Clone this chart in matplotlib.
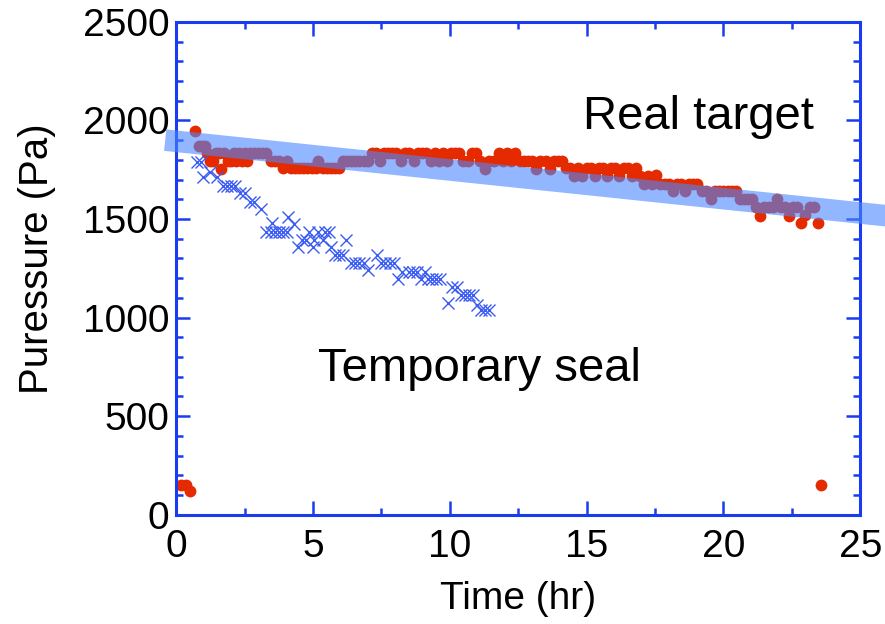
import numpy as np
import matplotlib
matplotlib.use('Agg')
import matplotlib.pyplot as plt
from matplotlib.ticker import MultipleLocator

plt.rcParams['font.family'] = ['Liberation Sans', 'DejaVu Sans']

# Real target (red dots)
real_t = [0.18, 0.37, 0.51, 0.68, 0.82, 0.95, 1.05, 1.12, 1.25, 1.35, 1.45, 1.55, 1.65, 1.75,
          1.9, 2.0, 2.1, 2.2, 2.3, 2.4, 2.5, 2.6, 2.7, 2.85, 3.0, 3.15, 3.3, 3.45, 3.6, 3.75,
          3.9, 4.05, 4.2, 4.35, 4.5, 4.65, 4.8, 4.95, 5.1, 5.2, 5.35, 5.5, 5.65, 5.8, 5.95,
          6.1, 6.25, 6.4, 6.55, 6.7, 6.85, 7.0, 7.15, 7.3, 7.45, 7.6, 7.75, 7.9, 8.05, 8.2,
          8.35, 8.5, 8.7, 8.85, 9.0, 9.15, 9.3, 9.45, 9.6, 9.75, 9.9, 10.05, 10.2, 10.35,
          10.5, 10.65, 10.8, 10.95, 11.1, 11.3, 11.45, 11.6, 11.8, 11.95, 12.1, 12.25, 12.4,
          12.55, 12.7, 12.85, 13.0, 13.15, 13.3, 13.5, 13.65, 13.8, 13.95, 14.1, 14.25, 14.4,
          14.55, 14.7, 14.85, 15.0, 15.15, 15.3, 15.45, 15.6, 15.75, 15.9, 16.05, 16.2, 16.35,
          16.5, 16.65, 16.8, 16.95, 17.1, 17.25, 17.4, 17.55, 17.7, 17.85, 18.0, 18.15, 18.3,
          18.45, 18.6, 18.75, 18.9, 19.05, 19.2, 19.35, 19.55, 19.7, 19.85, 20.0, 20.15, 20.3,
          20.45, 20.6, 20.75, 20.9, 21.05, 21.2, 21.35, 21.5, 21.65, 21.8, 21.95, 22.1, 22.25,
          22.4, 22.55, 22.7, 22.85, 23.0, 23.15, 23.3, 23.45, 23.55]
real_p = [150, 150, 120, 1945, 1870, 1870, 1870, 1835, 1795, 1795, 1835, 1835, 1755, 1835,
          1795, 1795, 1835, 1795, 1835, 1795, 1835, 1795, 1835, 1835, 1835, 1835, 1835, 1795, 1795, 1795,
          1760, 1795, 1760, 1760, 1760, 1760, 1760, 1760, 1760, 1795, 1760, 1760, 1760, 1760, 1760,
          1795, 1795, 1795, 1795, 1795, 1795, 1795, 1835, 1835, 1795, 1835, 1835, 1835, 1835, 1795,
          1835, 1835, 1795, 1835, 1835, 1835, 1795, 1835, 1795, 1835, 1795, 1835, 1835, 1835,
          1795, 1795, 1835, 1835, 1795, 1755, 1795, 1795, 1835, 1795, 1835, 1795, 1835,
          1795, 1795, 1795, 1795, 1755, 1795, 1795, 1755, 1795, 1795, 1795, 1760, 1760,
          1720, 1760, 1720, 1760, 1760, 1720, 1760, 1760, 1720, 1760, 1760, 1720, 1760,
          1760, 1720, 1760, 1720, 1680, 1720, 1680, 1725, 1680, 1680, 1680, 1640, 1680,
          1680, 1640, 1680, 1680, 1680, 1640, 1640, 1600, 1640, 1640, 1640, 1640, 1640,
          1640, 1600, 1600, 1600, 1600, 1560, 1515, 1560, 1560, 1560, 1600, 1560, 1560,
          1515, 1560, 1560, 1480, 1520, 1560, 1560, 1480, 150]

# Temporary seal (blue crosses)
temp_t = [0.75, 0.9, 1.0, 1.25, 1.5, 1.7, 1.85, 2.0, 2.15, 2.35, 2.5, 2.7, 2.85, 3.1, 3.3,
          3.45, 3.5, 3.6, 3.75, 3.9, 4.05, 4.1, 4.3, 4.45, 4.6, 4.75, 4.85, 5.0, 5.05, 5.2,
          5.35, 5.45, 5.6, 5.65, 5.8, 5.95, 6.1, 6.2, 6.4, 6.55, 6.7, 6.85, 7.0, 7.35, 7.5,
          7.65, 7.8, 7.95, 8.1, 8.25, 8.5, 8.65, 8.8, 8.95, 9.1, 9.2, 9.35, 9.5, 9.65, 9.95,
          10.1, 10.25, 10.4, 10.55, 10.7, 10.85, 11.0, 11.15, 11.3, 11.45]
temp_p = [1790, 1790, 1713, 1740, 1713, 1668, 1668, 1668, 1668, 1632, 1632, 1587, 1587, 1551, 1435,
          1435, 1480, 1435, 1435, 1435, 1435, 1511, 1475, 1359, 1394, 1394, 1435, 1359, 1394, 1435,
          1394, 1435, 1435, 1359, 1318, 1318, 1318, 1394, 1278, 1278, 1278, 1278, 1242, 1318, 1278,
          1278, 1278, 1278, 1197, 1232, 1232, 1232, 1232, 1197, 1232, 1197, 1197, 1197, 1197, 1075,
          1156, 1156, 1115, 1115, 1115, 1115, 1065, 1039, 1039, 1039]

# trend band end points
band_t = [-0.4, 26.0]
band_p = [1900, 1516]

spine_col = '#1a3cf0'

fig = plt.figure(figsize=(8.85, 6.24), dpi=100)
ax = fig.add_axes([0.199, 0.175, 0.773, 0.79])

ax.plot(real_t, real_p, 'o', color='#e62a00', markersize=8.5, markeredgewidth=0, zorder=2)
ax.plot(temp_t, temp_p, 'x', color='#3a5cf0', markersize=8.5, markeredgewidth=1.0, zorder=2)
ax.plot(band_t, band_p, color='#4a86ff', alpha=0.6, linewidth=15.5,
        solid_capstyle='butt', clip_on=False, zorder=3)

ax.text(19.1, 2018, 'Real target', fontsize=34, ha='center', va='center')
ax.text(11.1, 740, 'Temporary seal', fontsize=34, ha='center', va='center')

ax.set_xlim(0, 25)
ax.set_ylim(0, 2500)
ax.xaxis.set_major_locator(MultipleLocator(5))
ax.xaxis.set_minor_locator(MultipleLocator(2.5))
ax.yaxis.set_major_locator(MultipleLocator(500))
ax.yaxis.set_minor_locator(MultipleLocator(100))

ax.tick_params(which='both', direction='in', top=True, right=True, color=spine_col,
               width=1.8, labelsize=28)
ax.tick_params(which='major', length=10)
ax.tick_params(which='minor', length=5)
ax.tick_params(axis='x', which='major', pad=10)
ax.tick_params(axis='y', which='major', pad=5)
for s in ax.spines.values():
    s.set_color(spine_col)
    s.set_linewidth(2.2)

ax.set_xlabel('Time (hr)', fontsize=28, labelpad=12)
ax.set_ylabel('Puressure (Pa)', fontsize=29)
ax.yaxis.set_label_coords(-0.175, 0.52)

fig.savefig('out.png', dpi=100)
